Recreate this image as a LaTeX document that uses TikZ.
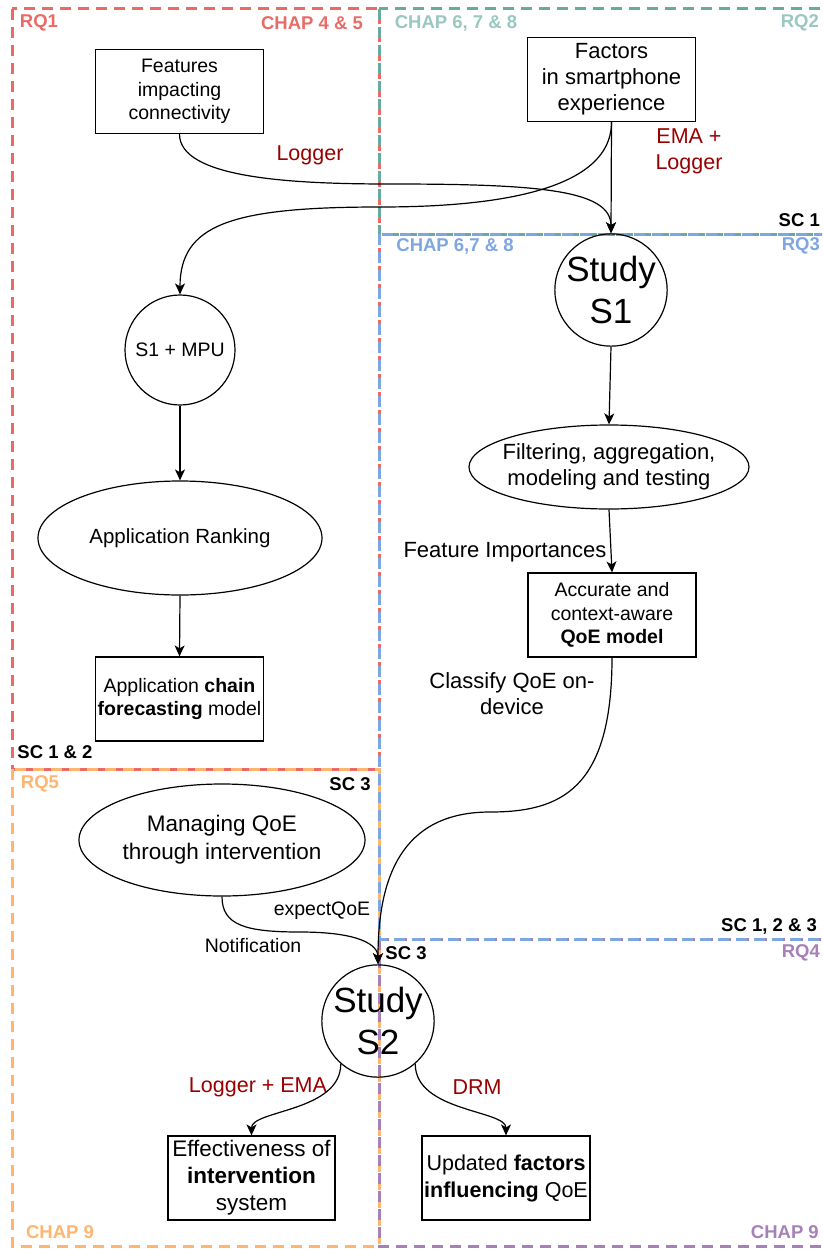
\documentclass[tikz,border=0pt]{standalone}
\usepackage{fontspec}
\setmainfont{Liberation Sans}
\usetikzlibrary{shapes.geometric,arrows.meta,calc}
\definecolor{cred}{HTML}{EA6B66}
\definecolor{cteal}{HTML}{67AB9F}
\definecolor{cteallbl}{HTML}{9AC7BF}
\definecolor{cblue}{HTML}{7EA6E0}
\definecolor{corange}{HTML}{FFB570}
\definecolor{cpurple}{HTML}{A680B8}
\definecolor{cdark}{HTML}{990000}
\newcommand{\fsz}[2]{\fontsize{#1}{#2}\selectfont}
\begin{document}
\begin{tikzpicture}[x=1pt,y=-1pt,
  region/.style={line width=3pt, dash pattern=on 11pt off 7pt},
  box/.style={draw, line width=1.2pt, align=center, inner sep=0pt, minimum width=168pt, minimum height=84pt},
  oval/.style={draw, ellipse, line width=1.2pt, align=center, inner sep=0pt},
  circ/.style={draw, circle, line width=1.2pt, align=center, inner sep=0pt, minimum size=112pt},
  lbl/.style={font=\fsz{18.5}{21}\bfseries, inner sep=0pt},
  conn/.style={line width=1.2pt, -{Stealth[length=11pt,width=10pt,inset=3pt]}},
  dr/.style={text=cdark, align=center, font=\fsz{21.5}{26}, inner sep=0pt},
  bl/.style={align=center, inner sep=0pt}]
\useasboundingbox (0,0) rectangle (822,1250);
\begin{scope}
\clip (0,0) rectangle (822,1250);
% regions
\draw[region, cred] (12,8.5) rectangle (379,769);
\draw[region, cteal] (379,8.5) rectangle (824,234);
\draw[region, corange] (12,769) rectangle (379,1246);
\draw[region, cpurple] (379,939) rectangle (824,1246);
\draw[region, cblue] (379,234) rectangle (824,939);
\end{scope}
% region labels
\node[lbl, text=cred] (rq1) at (39,23) {RQ1};
\node[lbl, text=cred] (ch45) at (312,23) {CHAP 4 \& 5};
\node[lbl, text=cteallbl] (ch678a) at (456,23) {CHAP 6, 7 \& 8};
\node[lbl, text=cteallbl, anchor=east] (rq2) at (819,23) {RQ2};
\node[lbl, anchor=east] (sc1) at (820,220) {SC 1};
\node[lbl, text=cblue] (ch678b) at (455,246) {CHAP 6,7 \& 8};
\node[lbl, text=cblue, anchor=east] (rq3) at (820,246) {RQ3};
\node[lbl] (sc12) at (55,752) {SC 1 \& 2};
\node[lbl, text=corange] (rq5) at (40,784) {RQ5};
\node[lbl] (sc3a) at (350,784) {SC 3};
\node[lbl, anchor=east] (sc123) at (817,926) {SC 1, 2 \& 3};
\node[lbl] (sc3b) at (406,953) {SC 3};
\node[lbl, text=cpurple, anchor=east] (rq4) at (820,953) {RQ4};
\node[lbl, text=corange] (ch9a) at (60,1232) {CHAP 9};
\node[lbl, text=cpurple, anchor=east] (ch9b) at (819,1232) {CHAP 9};
% nodes
\node[box, font=\fsz{19.5}{23.5}] (feat) at (179.5,91.5) {Features\\impacting\\connectivity};
\node[box, font=\fsz{22}{26}] (fact) at (611.5,79.5) {Factors\\in smartphone\\experience};
\node[circ, font=\fsz{35}{42}] (s1) at (611,290) {Study\\S1};
\node[circ, minimum size=110pt, font=\fsz{19.5}{23.5}] (mpu) at (180,350) {S1 + MPU};
\node[oval, minimum width=284pt, minimum height=114pt, font=\fsz{20.5}{24.5}] (rank) at (180,538) {Application Ranking};
\node[box, font=\fsz{19.5}{23}] (chain) at (179.5,699) {Application \textbf{chain}\\\textbf{forecasting} model};
\node[oval, inner xsep=-9pt, inner ysep=-10pt, minimum width=280pt, minimum height=84pt, font=\fsz{22}{26}] (filt) at (609,467) {Filtering, aggregation,\\modeling and testing};
\node[box, font=\fsz{19.5}{23.5}] (qoe) at (612,615) {Accurate and\\context-aware\\\textbf{QoE model}};
\node[oval, minimum width=286pt, minimum height=112pt, font=\fsz{22.5}{28}] (manage) at (222,840) {Managing QoE\\through intervention};
\node[circ, font=\fsz{35}{42}] (s2) at (378,1021) {Study\\S2};
\node[box, minimum width=167pt, font=\fsz{22.5}{27}] (eff) at (251.5,1178) {Effectiveness of\\\textbf{intervention}\\system};
\node[box, font=\fsz{21.5}{27}] (upd) at (506,1178) {Updated \textbf{factors}\\\textbf{influencing} QoE};
% connector labels
\node[dr] (lg1) at (310,155) {Logger};
\node[dr] (ema) at (689,151) {EMA +\\Logger};
\node[bl, font=\fsz{22}{26}] (fi) at (505,552) {Feature Importances};
\node[bl, font=\fsz{22}{26}] (cls) at (512,694) {Classify QoE on-\\device};
\node[bl, font=\fsz{19.5}{23}] (exq) at (322,911) {expectQoE};
\node[bl, font=\fsz{19.5}{23}] (notif) at (253,946) {Notification};
\node[dr] (lge) at (258,1087) {Logger + EMA};
\node[dr] (drm) at (477,1087) {DRM};
% connectors
\draw[conn] (feat.south) .. controls (179.5,178) and (290,184) .. (390,184) .. controls (540,184) and (611,190) .. (s1.north);
\draw[conn] (fact.south) -- (s1.north);
\draw[conn] (fact.south) .. controls (611.5,195) and (480,207) .. (380,207) .. controls (230,207) and (180,225) .. (mpu.north);
\draw[conn] (s1.south) -- (filt.north);
\draw[conn] (mpu.south) -- (rank.north);
\draw[conn] (rank.south) -- (chain.north);
\draw[conn] (filt.south) -- (qoe.north);
\draw[conn] (qoe.south) .. controls (612,790) and (560,812) .. (490,812) .. controls (400,812) and (378,880) .. (s2.north);
\draw[conn] (manage.south) .. controls (222,925) and (245,932) .. (300,932) .. controls (360,932) and (378,945) .. (s2.north);
\draw[conn] (s2.-131) .. controls ($(s2.-131)+(0,48)$) and (251.5,1110) .. (eff.north);
\draw[conn] (s2.-49) .. controls ($(s2.-49)+(0,48)$) and (506,1110) .. (upd.north);
\end{tikzpicture}
\end{document}
